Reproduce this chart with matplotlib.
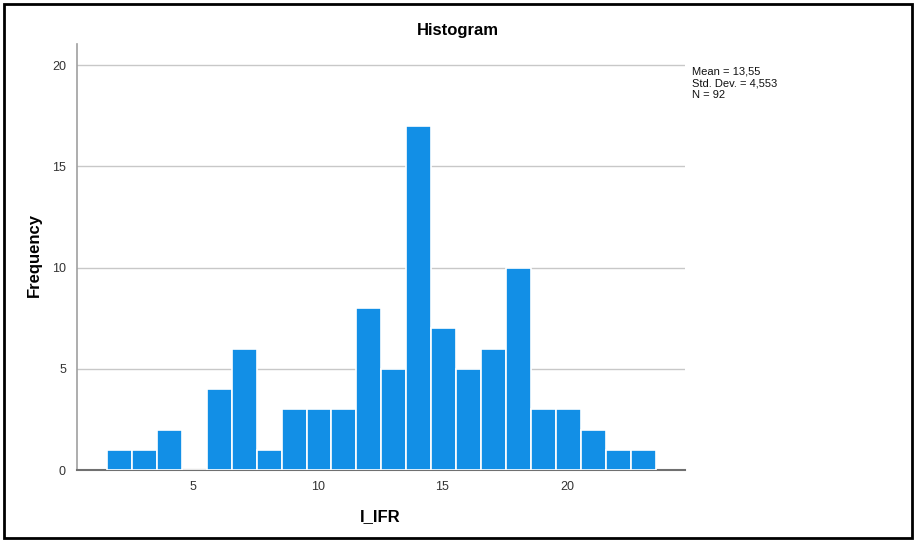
import numpy as np
import matplotlib
matplotlib.use("Agg")
import matplotlib.pyplot as plt
from matplotlib.patches import Rectangle

# histogram counts (bins of width 1)
counts = [1, 1, 2, 0, 4, 6, 1, 3, 3, 3, 8, 5, 17, 7, 5, 6, 10, 3, 3, 2, 1, 1]
bin_start = 1.55
bin_width = 1.0
xticks = [5, 10, 15, 20]
yticks = [0, 5, 10, 15, 20]
stats_text = "Mean = 13,55\nStd. Dev. = 4,553\nN = 92"

plt.rcParams['font.family'] = ['Liberation Sans', 'DejaVu Sans']

fig = plt.figure(figsize=(9.15, 5.41), dpi=100)
ax = fig.add_axes([0.0842, 0.1312, 0.6644, 0.7875])

edges = bin_start + np.arange(len(counts) + 1) * bin_width
ax.bar(edges[:-1], counts, width=bin_width, align='edge',
       color='#128fe6', edgecolor='white', linewidth=1.2, zorder=3)

ax.set_xlim(0.35, 24.72)
ax.set_ylim(0, 21.05)
ax.set_xticks(xticks)
ax.set_yticks(yticks)
ax.tick_params(length=0, labelsize=9, colors='#333333', pad=8)
ax.yaxis.grid(True, color='#c8c8c8', linewidth=1, zorder=0)
ax.set_axisbelow(True)

for s in ['top', 'right']:
    ax.spines[s].set_visible(False)
ax.spines['left'].set_color('#a0a0a0')
ax.spines['left'].set_linewidth(1.2)
ax.spines['bottom'].set_color('#707070')
ax.spines['bottom'].set_linewidth(1.5)

fig.text(0.5, 0.944, "Histogram", ha='center', va='center', fontsize=12, fontweight='bold')
fig.text(0.038, 0.529, "Frequency", ha='center', va='center', rotation=90,
         fontsize=12, fontweight='bold')
fig.text(0.415, 0.045, "I_IFR", ha='center', va='center', fontsize=12, fontweight='bold')

fig.text(0.756, 0.877, stats_text, ha='left', va='top', fontsize=8,
         linespacing=1.2, color='#111111')

# outer frame
fig.patches.append(Rectangle((0.004, 0.005), 0.993, 0.988, transform=fig.transFigure,
                             fill=False, edgecolor='black', linewidth=2))

fig.savefig("out.png", dpi=100)
